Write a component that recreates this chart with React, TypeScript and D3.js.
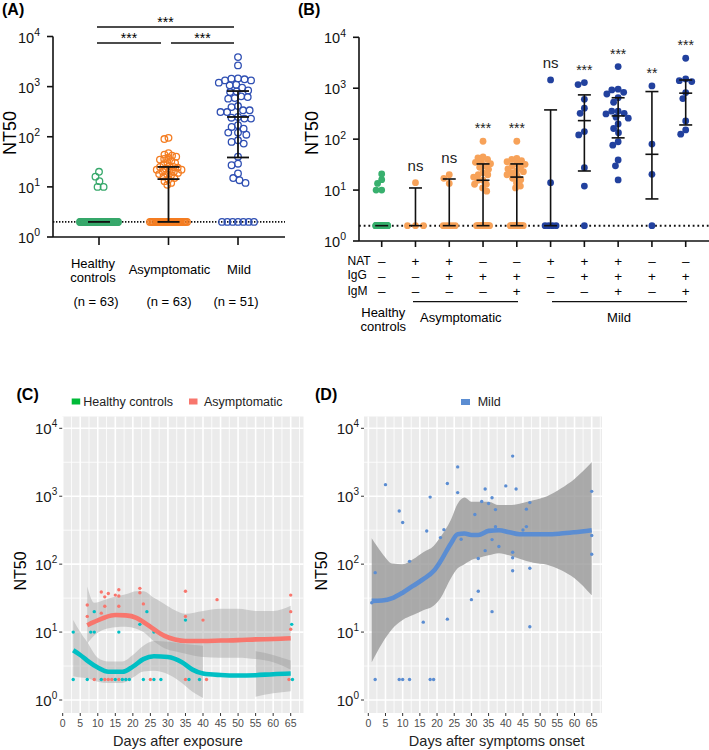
import React from 'react';
import * as d3 from 'd3';

const FONT = '"Liberation Sans", Arial, Helvetica, sans-serif';
const LOD = 2;

// ---------------- Panel A data ----------------
const groupsA = ['Healthy controls', 'Asymptomatic', 'Mild'];
const nLabelsA = ['(n = 63)', '(n = 63)', '(n = 51)'];
const belowLodA = [58, 30, 7];
const healthyAboveA = [10, 10, 13, 16, 20];
const asymAboveA = [11, 12, 13, 14, 15, 16, 17, 18, 18, 19, 20, 20, 21, 22, 22, 23, 24, 25, 25, 26, 28, 30, 31, 33, 35, 36, 38, 40, 42, 44, 47, 90, 95];
const mildAboveA = [12, 13.6, 15, 18.5, 27, 29, 40, 73, 79, 85, 110, 121, 121, 145, 157, 170, 230, 230, 240, 248, 311, 311, 337, 337, 390, 410, 575, 590, 620, 640, 780, 800, 840, 950, 1060, 1090, 1200, 1330, 1330, 1400, 1440, 1460, 2650, 3880];
const medianA = [2, 14.3, 248];
const q1A = [2, 2, 38.6];
const q3A = [2, 25, 816];
const colorsA = ['#37a86b', '#f47d22', '#2f4fb3'];

// ---------------- Panel B data ----------------
const natB = ['–', '+', '+', '–', '–', '+', '+', '+', '–', '–'];
const iggB = ['–', '–', '+', '+', '+', '–', '+', '+', '+', '+'];
const igmB = ['–', '–', '–', '–', '+', '–', '–', '+', '–', '+'];
const belowLodB = [58, 3, 5, 15, 15, 4, 1, 0, 1, 0];
const aboveB0 = [10, 10, 13.5, 16, 20.7];
const aboveB1 = [14];
const aboveB2 = [13.5, 17, 20];
const aboveB3 = [9.5, 11, 13, 13, 15.6, 15.6, 18, 20, 20, 22, 25.6, 28, 30, 33, 35, 36, 40, 43, 45, 91];
const aboveB4 = [11, 12, 14, 16, 17, 19, 20, 22, 23, 24, 26, 28, 30, 32, 33, 36, 38, 40, 42, 91];
const aboveB5 = [14, 1456];
const aboveB6 = [12, 27.5, 121, 141, 322, 405, 605, 1180, 1290];
const aboveB7 = [15.8, 30, 39, 76, 89, 134, 162, 199, 258, 270, 313, 322, 355, 355, 530, 650, 770, 830, 925, 960, 2660];
const aboveB8 = [20.4, 80, 1110];
const aboveB9 = [125, 152, 228, 627, 820, 1350, 1410, 1520, 3880];
const medianB = [2, 2, 2, 15.6, 18, 2, 231, 286, 50.4, 800];
const q1B = [2, 2, 2, 2, 2, 2, 23.7, 106, 6.7, 190];
const q3B = [2, 11, 16.5, 32.6, 32.6, 375, 740, 650, 860, 1450];
const sigB = ['', 'ns', 'ns', '***', '***', 'ns', '***', '***', '**', '***'];
const groupOfB = [0, 1, 1, 1, 1, 2, 2, 2, 2, 2];
const colorsB = ['#38b06e', '#f7a259', '#22419e'];

// ---------------- Panel C data ----------------
const healthyDaysC = [3, 8, 9, 9, 16, 22, 24, 26, 35, 65.3, 3, 7, 11, 15, 17, 18, 19, 23, 26, 28, 36, 39, 65.5];
const healthyValsC = [10, 10, 10, 20, 10, 13, 20, 10, 15, 13, 2, 2, 2, 2, 2, 2, 2, 2, 2, 2, 2, 2, 2];
const asymDaysC = [7, 7, 11, 11, 12, 12, 13, 15, 16, 16, 16, 22, 22, 23, 35, 35, 40, 44, 65, 65, 65, 9, 12, 13, 14, 16, 25, 35, 41, 64.5];
const asymValsC = [25, 17, 39, 19, 33, 24, 37, 35, 42, 34, 24, 44, 38, 26, 40, 17, 15, 30, 35, 20, 11, 2, 2, 2, 2, 2, 2, 2, 2, 2];

const asymSmoothDays = [7, 9, 12, 15, 18, 21, 23, 26, 29, 32, 35, 40, 45, 50, 55, 60, 65];
const asymFit = [12.6, 14.1, 16.4, 17.8, 17.6, 16.2, 14.1, 11.0, 8.8, 7.8, 7.4, 7.4, 7.5, 7.6, 7.8, 7.9, 8.1];
const asymHi = [47, 27, 30, 33, 36, 40, 40, 32, 26, 21, 18.6, 20.5, 22, 22, 20.5, 20.5, 24.5];
const asymLo = [6.8, 8.9, 11, 11.8, 12, 11.2, 10, 7.3, 5.8, 5.2, 4.8, 4.3, 4.2, 4.2, 4.0, 3.6, 2.8];

const healthySmoothDays = [3, 5, 7, 10, 13, 17, 20, 23, 26, 30, 34, 37, 40, 45, 50, 55, 60, 65];
const healthyFit = [5.4, 4.6, 3.8, 3.0, 2.6, 2.6, 3.1, 4.0, 4.4, 4.3, 3.6, 2.8, 2.45, 2.33, 2.29, 2.32, 2.4, 2.45];
const healthyHi = [15.1, 10, 7.1, 4.2, 3.7, 3.7, 4.6, 6.3, 7.4, 7.2, 6.8, 6.5, 6.3, NaN, NaN, 5.2, 4.6, 3.8];
const healthyLo = [2.24, 2.14, 2.09, 1.86, 1.78, 1.78, 2.14, 2.63, 2.69, 2.4, 1.78, 1.32, 1.07, NaN, NaN, 1.12, 1.26, 1.35];

// ---------------- Panel D data ----------------
const mildDaysD = [1, 2, 2, 5, 9, 9, 10, 10, 12, 12, 16, 17, 18, 18, 19, 21, 22, 23, 23, 26, 26, 27, 30, 31, 32, 32, 33, 34, 34, 35, 36, 36, 36, 37, 37, 38, 40, 42, 42, 42, 42, 43, 45, 46, 46, 47, 47, 47, 65, 65, 65];
const mildValsD = [27, 75, 2, 1480, 605, 2, 410, 2, 110, 2, 14, 307, 970, 2, 2, 246, 322, 1540, 15.5, 2700, 1130, 233, 30, 537, 121, 40, 835, 1280, 158, 780, 950, 230, 20, 636, 355, 182, 1420, 3900, 150, 124, 80, 1280, 318, 645, 357, 806, 87, 12, 1180, 264, 140];
const mildSmoothDays = [1, 4, 7, 10, 13, 16, 19, 21, 24, 26, 28, 30, 32, 35, 38, 41, 44, 48, 52, 56, 60, 65];
const mildFit = [28.8, 29.2, 31.6, 38, 47.9, 60, 79, 110, 200, 275, 282, 269, 269, 309, 316, 295, 275, 275, 275, 282, 295, 316];
const mildHi = [240, 145, 102, 100, 118, 150, 185, 251, 447, 776, 955, 832, 832, 832, 741, 741, 776, 871, 1000, 1300, 1800, 3160];
const mildLo = [3.6, 6.8, 11.2, 15.1, 17.8, 21, 24.5, 31.6, 61.7, 87, 100, 115, 123, 135, 145, 135, 120, 105, 98, 82, 62, 34.7];

const dayTicks = d3.range(0, 70, 5);
const decades = [0, 1, 2, 3, 4];

// ---------------- helpers ----------------
function swarm(values: number[], ys: (v: number) => number, cx: number, d: number) {
  const items = values.map((v) => ({ v, y: ys(v) })).sort((a, b) => a.y - b.y);
  const placed: { x: number; y: number }[] = [];
  for (const it of items) {
    const forb: [number, number][] = [];
    for (const p of placed) {
      const dy = Math.abs(p.y - it.y);
      if (dy < d) {
        const dx = Math.sqrt(d * d - dy * dy);
        forb.push([p.x - dx, p.x + dx]);
      }
    }
    const cands = [cx];
    forb.forEach(([a, b]) => cands.push(a, b));
    cands.sort((a, b) => Math.abs(a - cx) - Math.abs(b - cx));
    let x = cx;
    for (const c of cands) {
      if (forb.every(([a, b]) => c <= a + 1e-6 || c >= b - 1e-6)) {
        x = c;
        break;
      }
    }
    placed.push({ x, y: it.y });
  }
  return placed;
}

function rowX(n: number, cx: number, w: number) {
  if (n <= 0) return [] as number[];
  if (n === 1) return [cx];
  return d3.range(n).map((i) => cx - w / 2 + (i * w) / (n - 1));
}

const Pow = ({ x, y, e, size, sup, fill = '#111' }: any) => (
  <text x={x} y={y} textAnchor="end" fontSize={size} fill={fill}>
    10
    <tspan dy={-size * 0.45} fontSize={sup}>
      {e}
    </tspan>
  </text>
);

// ---------------- Panel A ----------------
function PanelA() {
  const yA = d3.scaleLog().domain([1, 1e4]).range([237, 36.5]);
  const xA = d3.scalePoint<string>().domain(groupsA).range([99, 238]);
  const aboves = [healthyAboveA, asymAboveA, mildAboveA];
  const rowW = [38, 37, 32];
  const collide = [6, 4.3, 6.6];
  const r = 3.3;
  return (
    <g>
      <text x={2} y={15} fontSize={16} fontWeight="bold">(A)</text>
      {/* significance */}
      <line x1={97} x2={234} y1={27} y2={27} stroke="#111" strokeWidth={1.3} />
      <line x1={97} x2={161} y1={43} y2={43} stroke="#111" strokeWidth={1.3} />
      <line x1={171} x2={234} y1={43} y2={43} stroke="#111" strokeWidth={1.3} />
      <text x={165.5} y={26.5} fontSize={14} textAnchor="middle">***</text>
      <text x={129} y={43} fontSize={14} textAnchor="middle">***</text>
      <text x={202.5} y={43} fontSize={14} textAnchor="middle">***</text>
      {/* axes */}
      <line x1={53} x2={53} y1={yA(1e4)} y2={237} stroke="#111" strokeWidth={1.6} />
      <line x1={53} x2={285} y1={237} y2={237} stroke="#111" strokeWidth={1.6} />
      {decades.map((k) => (
        <g key={k}>
          <line x1={47} x2={53} y1={yA(10 ** k)} y2={yA(10 ** k)} stroke="#111" strokeWidth={1.6} />
          <Pow x={40} y={yA(10 ** k) + 6} e={k} size={14.5} sup={10.5} />
        </g>
      ))}
      {groupsA.map((g) => (
        <line key={g} x1={xA(g)} x2={xA(g)} y1={237} y2={245} stroke="#111" strokeWidth={1.6} />
      ))}
      <text transform={`translate(16,133) rotate(-90)`} textAnchor="middle" fontSize={18}>NT50</text>
      {/* category labels */}
      <text x={93} y={268} fontSize={13} textAnchor="middle">Healthy</text>
      <text x={93} y={282} fontSize={13} textAnchor="middle">controls</text>
      <text x={169.5} y={274} fontSize={13} textAnchor="middle">Asymptomatic</text>
      <text x={239} y={274} fontSize={13} textAnchor="middle">Mild</text>
      {nLabelsA.map((t, i) => (
        <text key={i} x={[96, 169, 236][i]} y={306} fontSize={13} textAnchor="middle">{t}</text>
      ))}
      {/* LOD line */}
      <line x1={53} x2={285} y1={yA(LOD)} y2={yA(LOD)} stroke="#111" strokeWidth={1.6} strokeDasharray="1.4 1.6" />
      {/* points */}
      {groupsA.map((g, gi) => {
        const cx = xA(g)!;
        const below = rowX(belowLodA[gi], cx, rowW[gi]).map((x) => ({ x, y: yA(LOD) }));
        const above = swarm(aboves[gi], (v) => yA(v), cx, collide[gi]);
        return [...below, ...above].map((p, i) => (
          <circle key={g + i} cx={p.x} cy={p.y} r={r} fill="none" stroke={colorsA[gi]} strokeWidth={1.3} />
        ));
      })}
      {/* error bars */}
      {groupsA.map((g, gi) => {
        const cx = xA(g)!;
        const hw = 11;
        return (
          <g key={g} stroke="#111" strokeWidth={1.8}>
            {q3A[gi] !== q1A[gi] && <line x1={cx} x2={cx} y1={yA(q1A[gi])} y2={yA(q3A[gi])} />}
            {q3A[gi] !== medianA[gi] && <line x1={cx - hw} x2={cx + hw} y1={yA(q3A[gi])} y2={yA(q3A[gi])} />}
            {q1A[gi] !== medianA[gi] && <line x1={cx - hw} x2={cx + hw} y1={yA(q1A[gi])} y2={yA(q1A[gi])} />}
            <line x1={cx - hw} x2={cx + hw} y1={yA(medianA[gi])} y2={yA(medianA[gi])} />
          </g>
        );
      })}
    </g>
  );
}

// ---------------- Panel B ----------------
function PanelB() {
  const yB = d3.scaleLog().domain([1, 1e4]).range([241, 37.3]);
  const cats = d3.range(10);
  const xB = d3.scalePoint<number>().domain(cats).range([381.7, 685.7]);
  const aboves = [aboveB0, aboveB1, aboveB2, aboveB3, aboveB4, aboveB5, aboveB6, aboveB7, aboveB8, aboveB9];
  const rowW = [12, 16, 12, 13, 13, 11, 0, 0, 0, 0];
  const collide = [5.6, 6.5, 6.5, 5.2, 5.2, 6.5, 6.6, 6.4, 6.6, 6.6];
  return (
    <g>
      <text x={298} y={15} fontSize={16} fontWeight="bold">(B)</text>
      <line x1={359} x2={359} y1={yB(1e4)} y2={241} stroke="#111" strokeWidth={1.6} />
      <line x1={359} x2={709} y1={241} y2={241} stroke="#111" strokeWidth={1.6} />
      {decades.map((k) => (
        <g key={k}>
          <line x1={353} x2={359} y1={yB(10 ** k)} y2={yB(10 ** k)} stroke="#111" strokeWidth={1.6} />
          <Pow x={346} y={yB(10 ** k) + 6} e={k} size={14.5} sup={10.5} />
        </g>
      ))}
      {cats.map((c) => (
        <line key={c} x1={xB(c)} x2={xB(c)} y1={241} y2={247} stroke="#111" strokeWidth={1.6} />
      ))}
      <text transform={`translate(318,133) rotate(-90)`} textAnchor="middle" fontSize={18}>NT50</text>
      <line x1={359} x2={709} y1={yB(LOD)} y2={yB(LOD)} stroke="#111" strokeWidth={2} strokeDasharray="1.8 2.9" />
      {cats.map((c) => {
        const cx = xB(c)!;
        const col = colorsB[groupOfB[c]];
        const below = rowX(belowLodB[c], cx, rowW[c]).map((x) => ({ x, y: yB(LOD) }));
        const above = swarm(aboves[c], (v) => yB(v), cx, collide[c]);
        return [...below, ...above].map((p, i) => (
          <circle key={c + '-' + i} cx={p.x} cy={p.y} r={3.4} fill={col} />
        ));
      })}
      {cats.map((c) => {
        const cx = xB(c)!;
        const hw = 6.5;
        return (
          <g key={c} stroke="#111" strokeWidth={1.6}>
            {q3B[c] !== q1B[c] && <line x1={cx} x2={cx} y1={yB(q1B[c])} y2={yB(q3B[c])} />}
            {q3B[c] !== medianB[c] && <line x1={cx - hw} x2={cx + hw} y1={yB(q3B[c])} y2={yB(q3B[c])} />}
            {q1B[c] !== medianB[c] && <line x1={cx - hw} x2={cx + hw} y1={yB(q1B[c])} y2={yB(q1B[c])} />}
            <line x1={cx - hw} x2={cx + hw} y1={yB(medianB[c])} y2={yB(medianB[c])} />
          </g>
        );
      })}
      {cats.map((c) => {
        if (!sigB[c]) return null;
        const mx = Math.max(...aboves[c]);
        const cy = yB(mx) - 16;
        const isNs = sigB[c] === 'ns';
        return (
          <text key={c} x={xB(c)} y={isNs ? cy + 4 : cy + 8} fontSize={isNs ? 15 : 14} textAnchor="middle" fill="#222">
            {sigB[c]}
          </text>
        );
      })}
      {/* table */}
      <text x={347.5} y={264.5} fontSize={12}>NAT</text>
      <text x={347.5} y={279} fontSize={12}>IgG</text>
      <text x={347.5} y={294.5} fontSize={12}>IgM</text>
      {cats.map((c) => (
        <g key={c} fontSize={13.5} textAnchor="middle">
          <text x={xB(c)} y={265.5}>{natB[c]}</text>
          <text x={xB(c)} y={280.5}>{iggB[c]}</text>
          <text x={xB(c)} y={296}>{igmB[c]}</text>
        </g>
      ))}
      <line x1={413} x2={518} y1={301.7} y2={301.7} stroke="#111" strokeWidth={1.2} />
      <line x1={552} x2={687} y1={301.7} y2={301.7} stroke="#111" strokeWidth={1.2} />
      <text x={383.3} y={317} fontSize={13} textAnchor="middle">Healthy</text>
      <text x={383.3} y={331} fontSize={13} textAnchor="middle">controls</text>
      <text x={460.8} y={322} fontSize={13} textAnchor="middle">Asymptomatic</text>
      <text x={619} y={322} fontSize={13} textAnchor="middle">Mild</text>
    </g>
  );
}

// ---------------- ggplot-like panels ----------------
const yCD = d3.scaleLog().domain([1, 1e4]).range([700, 428.3]);
const PANEL_TOP = 416.5;
const PANEL_BOTTOM = 713;

function GGPanel({ id, x, left, right, children }: any) {
  const majorX = dayTicks.filter((t) => x(t) >= left && x(t) <= right);
  const minorX = dayTicks.map((t) => t + 2.5).filter((t) => x(t) >= left && x(t) <= right);
  const minorY = [0.5, 1.5, 2.5, 3.5];
  return (
    <g>
      <defs>
        <clipPath id={id}>
          <rect x={left} y={PANEL_TOP} width={right - left} height={PANEL_BOTTOM - PANEL_TOP} />
        </clipPath>
      </defs>
      <rect x={left} y={PANEL_TOP} width={right - left} height={PANEL_BOTTOM - PANEL_TOP} fill="#EBEBEB" />
      {minorY.map((k) => (
        <line key={'my' + k} x1={left} x2={right} y1={yCD(10 ** k)} y2={yCD(10 ** k)} stroke="#fff" strokeWidth={0.8} />
      ))}
      {minorX.map((t) => (
        <line key={'mx' + t} x1={x(t)} x2={x(t)} y1={PANEL_TOP} y2={PANEL_BOTTOM} stroke="#fff" strokeWidth={0.8} />
      ))}
      {decades.map((k) => (
        <line key={'My' + k} x1={left} x2={right} y1={yCD(10 ** k)} y2={yCD(10 ** k)} stroke="#fff" strokeWidth={1.6} />
      ))}
      {majorX.map((t) => (
        <line key={'Mx' + t} x1={x(t)} x2={x(t)} y1={PANEL_TOP} y2={PANEL_BOTTOM} stroke="#fff" strokeWidth={1.6} />
      ))}
      <g clipPath={`url(#${id})`}>{children}</g>
      {majorX.map((t) => (
        <g key={'tx' + t}>
          <line x1={x(t)} x2={x(t)} y1={PANEL_BOTTOM} y2={PANEL_BOTTOM + 3} stroke="#333" strokeWidth={1} />
          <text x={x(t)} y={726.5} fontSize={10.5} textAnchor="middle" fill="#4D4D4D">{t}</text>
        </g>
      ))}
      {decades.map((k) => (
        <g key={'ty' + k}>
          <line x1={left - 3} x2={left} y1={yCD(10 ** k)} y2={yCD(10 ** k)} stroke="#333" strokeWidth={1} />
          <Pow x={left - 5} y={yCD(10 ** k) + 5.5} e={k} size={15} sup={10} fill="#1a1a1a" />
        </g>
      ))}
    </g>
  );
}

function Smooth({ x, days, fit, lo, hi, color, fillOpacity }: any) {
  const idx = d3.range(days.length);
  const area = d3
    .area<number>()
    .defined((i) => !isNaN(lo[i]) && !isNaN(hi[i]))
    .x((i) => x(days[i]))
    .y0((i) => yCD(lo[i]))
    .y1((i) => yCD(hi[i]))
    .curve(d3.curveMonotoneX);
  const line = d3
    .line<number>()
    .x((i) => x(days[i]))
    .y((i) => yCD(fit[i]))
    .curve(d3.curveMonotoneX);
  return {
    ribbon: <path d={area(idx) || ''} fill="#999999" fillOpacity={fillOpacity} />,
    line: <path d={line(idx) || ''} fill="none" stroke={color} strokeWidth={4.6} />,
  };
}

function PanelC() {
  const xC = d3.scaleLinear().domain([0, 65]).range([62.7, 290.7]);
  const teal = '#00BFC4';
  const red = '#F8766D';
  const s1 = Smooth({ x: xC, days: asymSmoothDays, fit: asymFit, lo: asymLo, hi: asymHi, color: red, fillOpacity: 0.4 });
  const s2 = Smooth({ x: xC, days: healthySmoothDays, fit: healthyFit, lo: healthyLo, hi: healthyHi, color: teal, fillOpacity: 0.4 });
  return (
    <g>
      <text x={16.5} y={400} fontSize={16} fontWeight="bold">(C)</text>
      <rect x={71.7} y={398.5} width={8.5} height={6} fill="#00BA38" />
      <text x={83.3} y={405.5} fontSize={12.5} fill="#222">Healthy controls</text>
      <rect x={189} y={398.5} width={8.5} height={6} fill={red} />
      <text x={204} y={405.5} fontSize={12.5} fill="#222">Asymptomatic</text>
      <GGPanel id="clipC" x={xC} left={62.2} right={303.5}>
        {s1.ribbon}
        {s2.ribbon}
        {asymDaysC.map((d, i) => (
          <circle key={'a' + i} cx={xC(d)} cy={yCD(asymValsC[i])} r={1.7} fill={red} />
        ))}
        {healthyDaysC.map((d, i) => (
          <circle key={'h' + i} cx={xC(d)} cy={yCD(healthyValsC[i])} r={1.7} fill={teal} />
        ))}
        {s1.line}
        {s2.line}
      </GGPanel>
      <text transform={`translate(26,571) rotate(-90)`} textAnchor="middle" fontSize={16}>NT50</text>
      <text x={178} y={746} fontSize={14.5} textAnchor="middle" fill="#222">Days after exposure</text>
    </g>
  );
}

function PanelD() {
  const xD = d3.scaleLinear().domain([0, 65]).range([368.3, 591.7]);
  const blue = '#5B8DD2';
  const s = Smooth({ x: xD, days: mildSmoothDays, fit: mildFit, lo: mildLo, hi: mildHi, color: blue, fillOpacity: 0.8 });
  return (
    <g>
      <text x={315} y={400} fontSize={16} fontWeight="bold">(D)</text>
      <rect x={461} y={399} width={9} height={6} fill={blue} />
      <text x={477.7} y={405.5} fontSize={12.5} fill="#222">Mild</text>
      <GGPanel id="clipD" x={xD} left={364} right={602}>
        {s.ribbon}
        {mildDaysD.map((d, i) => (
          <circle key={'m' + i} cx={xD(d)} cy={yCD(mildValsD[i])} r={1.7} fill={blue} />
        ))}
        {s.line}
      </GGPanel>
      <text transform={`translate(327,571) rotate(-90)`} textAnchor="middle" fontSize={16}>NT50</text>
      <text x={496.7} y={746} fontSize={14.5} textAnchor="middle" fill="#222">Days after symptoms onset</text>
    </g>
  );
}

export default function App() {
  return (
    <svg
      width={709}
      height={750}
      viewBox="0 0 709 750"
      style={{ position: 'absolute', left: 0, top: 0, display: 'block', background: '#fff' }}
      fontFamily={FONT}
    >
      <rect x={0} y={0} width={709} height={750} fill="#fff" />
      <PanelA />
      <PanelB />
      <PanelC />
      <PanelD />
    </svg>
  );
}
